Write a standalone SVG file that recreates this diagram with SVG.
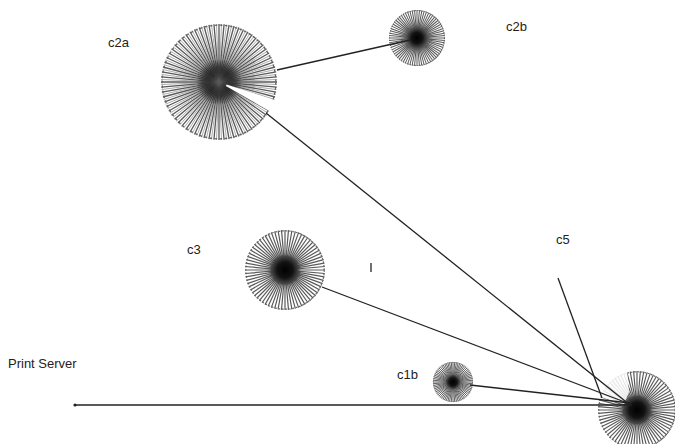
<svg xmlns="http://www.w3.org/2000/svg" xmlns:xlink="http://www.w3.org/1999/xlink" width="675" height="444" viewBox="0 0 675 444">
<style>
.lbl{font-family:"Liberation Sans",Arial,sans-serif;font-size:13px;fill:#222}
.edge{stroke:#222;stroke-width:1.3;fill:none}
.sp{stroke:#5a5a5a;fill:none}
</style>
<defs>
<radialGradient id="core">
<stop offset="0" stop-color="#000" stop-opacity="1"/>
<stop offset="0.5" stop-color="#000" stop-opacity="0.8"/>
<stop offset="1" stop-color="#000" stop-opacity="0"/>
</radialGradient>
<path id="sp" d="M-50 0L50 0M-49.81-4.36L49.81 4.36M-49.24-8.68L49.24 8.68M-48.3-12.94L48.3 12.94M-46.98-17.1L46.98 17.1M-45.32-21.13L45.32 21.13M-43.3-25L43.3 25M-40.96-28.68L40.96 28.68M-38.3-32.14L38.3 32.14M-35.36-35.36L35.36 35.36M-32.14-38.3L32.14 38.3M-28.68-40.96L28.68 40.96M-25-43.3L25 43.3M-21.13-45.32L21.13 45.32M-17.1-46.98L17.1 46.98M-12.94-48.3L12.94 48.3M-8.68-49.24L8.68 49.24M-4.36-49.81L4.36 49.81M0-50L0 50M4.36-49.81L-4.36 49.81M8.68-49.24L-8.68 49.24M12.94-48.3L-12.94 48.3M17.1-46.98L-17.1 46.98M21.13-45.32L-21.13 45.32M25-43.3L-25 43.3M28.68-40.96L-28.68 40.96M32.14-38.3L-32.14 38.3M35.36-35.36L-35.36 35.36M38.3-32.14L-38.3 32.14M40.96-28.68L-40.96 28.68M43.3-25L-43.3 25M45.32-21.13L-45.32 21.13M46.98-17.1L-46.98 17.1M48.3-12.94L-48.3 12.94M49.24-8.68L-49.24 8.68M49.81-4.36L-49.81 4.36"/>
<g id="burst">
<use xlink:href="#sp" class="sp"/>
<circle r="49" fill="none" stroke="#666" stroke-dasharray="2.4 1.96"/>
<circle r="20" fill="url(#core)"/>
</g>
</defs>
<rect width="675" height="444" fill="#fff"/>

<g id="c2a">
<use xlink:href="#burst" transform="translate(219,82) scale(1.16)" stroke-width="1.15"/>
<use xlink:href="#sp" class="sp" transform="translate(219,82) scale(1.16) rotate(2.5)" stroke-width="0.6" opacity="0.7"/>
<path d="M226.6 84.5L278 101.2L272.7 113L225.9 86Z" fill="#fff"/>
<text class="lbl" x="108" y="47">c2a</text>
</g>
<g id="c2b">
<use xlink:href="#burst" transform="translate(417,38) scale(0.56)" stroke-width="1.8"/>
<text class="lbl" x="506" y="31">c2b</text>
</g>
<g id="c3">
<use xlink:href="#burst" transform="translate(285,270) scale(0.8)" stroke-width="1.5"/>
<text class="lbl" x="187" y="254">c3</text>
</g>
<g id="c1b">
<use xlink:href="#burst" transform="translate(453,382) scale(0.4)" stroke-width="2.4"/>
<text class="lbl" x="397" y="379">c1b</text>
</g>
<g id="hub">
<use xlink:href="#burst" transform="translate(637,410) scale(0.78)" stroke-width="1.5"/>
<path d="M624 404L596 396L602 385L614 375L627 370L629 392Z" fill="#fff" opacity="0.85"/>
</g>
<g id="c5">
<text class="lbl" x="556" y="244">c5</text>
</g>
<g id="print-server">
<text class="lbl" x="8" y="368">Print Server</text>
<circle cx="75" cy="405" r="1.6" fill="#222"/>
</g>

<g id="connectors">
<line class="edge" x1="277" y1="70" x2="410" y2="40"/>
<line class="edge" x1="266" y1="113" x2="630" y2="405"/>
<line class="edge" x1="322" y1="287" x2="630" y2="404"/>
<line class="edge" x1="470" y1="385" x2="630" y2="403"/>
<line class="edge" x1="75" y1="405" x2="632" y2="405"/>
<line class="edge" x1="558" y1="278" x2="602" y2="398" stroke-width="1.5"/>
<line class="edge" x1="371" y1="263" x2="371" y2="272"/>
</g>
</svg>
